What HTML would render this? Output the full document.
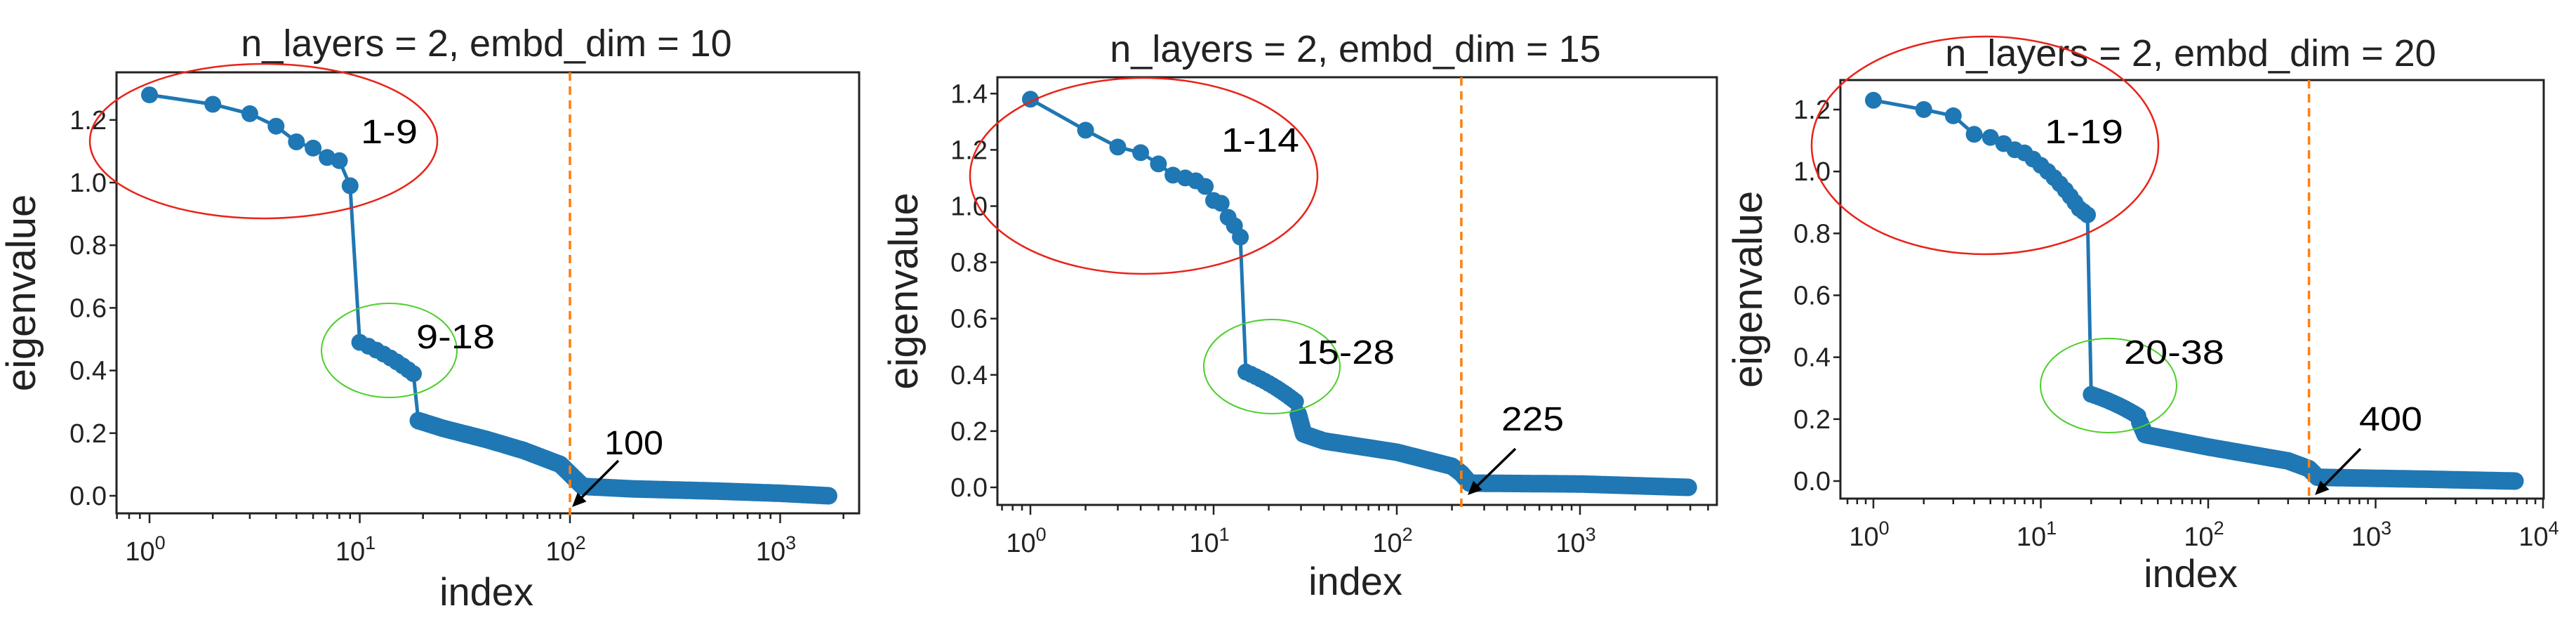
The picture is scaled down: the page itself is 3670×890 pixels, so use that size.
<!DOCTYPE html>
<html><head><meta charset="utf-8"><style>
html,body{margin:0;padding:0;background:#fff;width:3670px;height:890px;overflow:hidden}
svg{display:block}
text{font-family:"Liberation Sans",sans-serif}
</style></head><body>
<svg id="s" width="3670" height="890" xmlns="http://www.w3.org/2000/svg"></svg>
<script>
const S=document.getElementById('s');let h='';
function interp(k,i){for(let j=0;j<k.length-1;j++){if(i>=k[j][0]&&i<=k[j+1][0]){const a=Math.log(k[j][0]),b=Math.log(k[j+1][0]),t=(Math.log(i)-a)/(b-a);return k[j][1]+t*(k[j+1][1]-k[j][1]);}}return k[k.length-1][1];}
function panel(P){
 const X=i=>P.x0+Math.log10(i)*P.dec, Y=v=>P.y0-v*P.k;
 const vals=[];
 P.first.forEach((v,j)=>vals.push([j+1,v]));
 const g0=P.first.length+1;
 for(let i=g0;i<=P.g1;i++){vals.push([i,P.ga+(P.gb-P.ga)*(i-g0)/(P.g1-g0)]);}
 for(let i=P.g1+1;i<=P.N;i++)vals.push([i,interp(P.knots,i)]);
 let pts=vals.map(p=>X(p[0]).toFixed(1)+','+Y(p[1]).toFixed(1)).join(' ');
 h+=`<polyline points="${pts}" fill="none" stroke="#1f77b4" stroke-width="5"/>`;
 let dp=vals.filter(p=>p[0]>P.g1).map(p=>X(p[0]).toFixed(1)+','+Y(p[1]).toFixed(1)).join(' ');
 h+=`<polyline points="${dp}" fill="none" stroke="#1f77b4" stroke-width="25" stroke-linecap="round" stroke-linejoin="round"/>`;
 vals.filter(p=>p[0]<=P.g1+3).forEach(p=>{h+=`<circle cx="${X(p[0]).toFixed(1)}" cy="${Y(p[1]).toFixed(1)}" r="12" fill="#1f77b4"/>`;});
 h+=`<rect x="${P.L}" y="${P.T}" width="${P.R-P.L}" height="${P.B-P.T}" fill="none" stroke="#222" stroke-width="3"/>`;
 P.yt.forEach(v=>{const y=Y(v);h+=`<line x1="${P.L-10}" x2="${P.L}" y1="${y}" y2="${y}" stroke="#222" stroke-width="2.5"/><text x="${P.L-14}" y="${y+13}" font-size="38" text-anchor="end" fill="#222">${v.toFixed(1)}</text>`;});
 for(let d=-1;d<=P.maxd;d++){for(let m=1;m<10;m++){const i=m*Math.pow(10,d);const x=X(i);if(x<P.L||x>P.R)continue;const len=m==1?14:8;h+=`<line x1="${x}" x2="${x}" y1="${P.B}" y2="${P.B+len}" stroke="#222" stroke-width="2.5"/>`;if(m==1)h+=`<text x="${x-6}" y="${P.B+67}" font-size="38" text-anchor="middle" fill="#222">10<tspan font-size="27" dy="-16">${d}</tspan></text>`;}}
 const ox=X(P.ov);h+=`<line x1="${ox}" x2="${ox}" y1="${P.T}" y2="${P.B+3}" stroke="#ff7f0e" stroke-width="3.5" stroke-dasharray="12,8"/>`;
 h+=`<text x="${P.tx}" y="${P.ty}" font-size="54" text-anchor="middle" fill="#222">n_layers = 2, embd_dim = ${P.ed}</text>`;
 h+=`<text x="${P.tx}" y="${P.xy}" font-size="56" text-anchor="middle" fill="#222">index</text>`;
 h+=`<text transform="translate(${P.yx},${(P.T+P.B)/2}) rotate(-90)" font-size="58" text-anchor="middle" fill="#222">eigenvalue</text>`;
 const e=P.red;h+=`<ellipse cx="${(e[0]+e[1])/2}" cy="${(e[2]+e[3])/2}" rx="${(e[1]-e[0])/2}" ry="${(e[3]-e[2])/2}" fill="none" stroke="#e8231a" stroke-width="2.5"/>`;
 const g=P.grn;h+=`<ellipse cx="${(g[0]+g[1])/2}" cy="${(g[2]+g[3])/2}" rx="${(g[1]-g[0])/2}" ry="${(g[3]-g[2])/2}" fill="none" stroke="#4ccf2a" stroke-width="2"/>`;
 P.ann.forEach(a=>{h+=`<text x="${a[0]}" y="${a[1]}" font-size="48" fill="#000" textLength="${a[3]}" lengthAdjust="spacingAndGlyphs">${a[2]}</text>`;});
 const ar=P.arr;const dx=ar[2]-ar[0],dy=ar[3]-ar[1],l=Math.hypot(dx,dy),ux=dx/l,uy=dy/l;const hx=ar[2]-ux*20,hy=ar[3]-uy*20;
 h+=`<line x1="${ar[0]}" y1="${ar[1]}" x2="${hx}" y2="${hy}" stroke="#000" stroke-width="3.5"/><polygon points="${ar[2]},${ar[3]} ${hx-uy*9},${hy+ux*9} ${hx+uy*9},${hy-ux*9}" fill="#000"/>`;
}
panel({x0:213,dec:299.5,y0:706,k:446,L:166,R:1224,T:103,B:731,maxd:3,ov:100,ed:10,tx:693,ty:80,xy:862,yx:50,
 first:[1.28,1.25,1.22,1.18,1.13,1.11,1.08,1.07,0.99],ga:0.49,gb:0.39,g1:18,N:1700,
 knots:[[19,0.24],[25,0.215],[40,0.18],[60,0.145],[90,0.1],[100,0.07],[115,0.03],[200,0.022],[500,0.015],[1000,0.008],[1700,0.0]],
 yt:[0,0.2,0.4,0.6,0.8,1.0,1.2],red:[128,623,91,311],grn:[458,651,432,566],
 ann:[[514,204,'1-9',81],[593,496,'9-18',112],[861,647,'100',84]],arr:[881,656,815,722]});
panel({x0:1468,dec:261,y0:694,k:400.5,L:1421,R:2446,T:110,B:719,maxd:3,ov:225,ed:15,tx:1931,ty:88,xy:847,yx:1307,
 first:[1.38,1.27,1.21,1.19,1.15,1.11,1.10,1.09,1.07,1.02,1.01,0.96,0.93,0.89],ga:0.41,gb:0.305,g1:28,N:3900,
 knots:[[29,0.26],[31,0.19],[40,0.165],[100,0.125],[200,0.075],[225,0.05],[250,0.015],[1000,0.012],[3900,0.0]],
 yt:[0,0.2,0.4,0.6,0.8,1.0,1.2,1.4],red:[1382,1877,111,390],grn:[1715,1909,455,589],
 ann:[[1740,216,'1-14',111],[1847,518,'15-28',140],[2139,613,'225',89]],arr:[2159,639,2091,705]});
panel({x0:2669,dec:238.5,y0:685,k:440.8,L:2622,R:3624,T:114,B:710,maxd:4,ov:400,ed:20,tx:3121,ty:94,xy:836,yx:2510,
 first:[1.23,1.20,1.18,1.12,1.11,1.09,1.07,1.06,1.04,1.02,1.0,0.98,0.96,0.94,0.92,0.90,0.88,0.87,0.86],ga:0.28,gb:0.21,g1:38,N:6800,
 knots:[[39,0.19],[42,0.15],[100,0.11],[300,0.065],[400,0.04],[450,0.012],[2000,0.006],[6800,0.0]],
 yt:[0,0.2,0.4,0.6,0.8,1.0,1.2],red:[2581,3075,52,362],grn:[2907,3101,482,616],
 ann:[[2913,204,'1-19',112],[3026,518,'20-38',143],[3361,613,'400',90]],arr:[3363,639,3298,705]});
S.innerHTML=h;
</script>
</body></html>
